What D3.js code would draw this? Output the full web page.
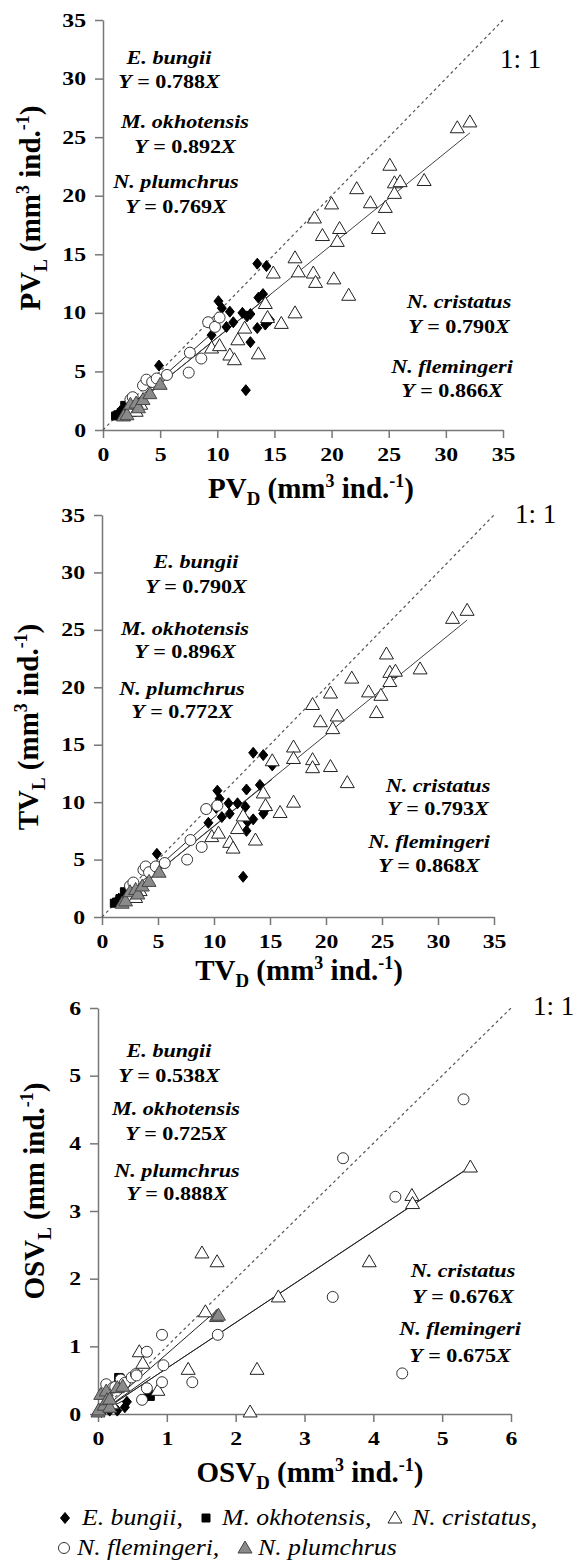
<!DOCTYPE html>
<html lang="en">
<head>
<script src="https://d3js.org/d3.v7.min.js"></script>
<style>
body { margin: 0; background: #fff; }
svg text { font-family: "Liberation Serif", "Times New Roman", serif; fill: #000; }
</style>
</head>
<body>
<svg id="chart" width="575" height="1563"></svg>
<script>
// species order: E. bungii, M. okhotensis, N. cristatus, N. flemingeri, N. plumchrus
var species = ["E. bungii", "M. okhotensis", "N. cristatus", "N. flemingeri", "N. plumchrus"]

// ---- PV panel ----
var pvBungii = [[1.5,1.6],[2.2,2.3],[4.9,5.5],[9.5,8.1],[10.1,11.0],[10.4,10.4],[10.8,8.8],[11.1,10.1],[11.4,9.2],[12.2,10.0],[12.5,3.4],[12.6,9.7],[12.9,9.9],[12.9,7.5],[13.5,8.7],[13.5,14.2],[13.6,11.3],[14.0,11.6],[14.2,9.0],[14.3,14.0],[14.6,9.4]]
var pvOkhotensis = [[1.1,1.2],[1.3,1.3],[1.6,1.5],[1.9,2.1]]
var pvCristatus = [[2.3,1.6],[2.9,1.6],[3.3,2.2],[9.5,7.0],[10.2,7.2],[11.1,6.4],[11.5,6.0],[11.8,7.7],[12.4,8.7],[13.6,6.5],[14.2,10.8],[14.4,9.6],[14.9,13.4],[15.6,9.1],[16.8,14.7],[17.1,13.5],[16.8,10.0],[18.4,13.4],[18.5,18.1],[18.6,12.6],[19.2,16.6],[20.0,19.3],[20.2,12.9],[20.5,16.1],[20.7,17.2],[21.5,11.5],[22.2,20.6],[23.4,19.4],[24.1,17.2],[24.7,19.0],[25.1,22.6],[25.5,21.1],[25.5,20.2],[26.0,21.2],[28.1,21.3],[31.0,25.8],[32.1,26.3]]
var pvFlemingeri = [[2.4,2.6],[2.6,2.8],[3.5,3.8],[3.8,4.3],[4.3,4.1],[4.7,4.4],[5.6,4.7],[7.5,4.9],[7.6,6.6],[8.6,6.1],[9.2,9.2],[9.8,8.8],[10.2,9.6]]
var pvPlumchrus = [[1.8,1.2],[2.1,1.3],[2.4,2.2],[2.9,2.3],[3.1,1.9],[3.5,2.6],[4.1,3.1],[5.0,3.9]]
var pvSlopes = [0.788, 0.892, 0.790, 0.866, 0.769]

// ---- TV panel ----
var tvBungii = [[1.5,1.6],[2.2,2.3],[4.9,5.5],[9.5,8.2],[10.2,9.5],[10.3,11.0],[10.5,10.3],[10.7,8.7],[11.3,9.9],[11.4,9.0],[12.1,9.9],[12.6,3.5],[12.8,9.6],[12.9,11.1],[12.9,7.5],[13.0,8.3],[13.5,8.5],[13.5,14.3],[14.1,11.5],[14.4,9.0],[14.4,14.1],[14.7,9.5],[15.2,13.2]]
var tvOkhotensis = [[1.1,1.2],[1.3,1.3],[1.6,1.6],[2.0,2.2]]
var tvCristatus = [[2.4,1.7],[3.0,1.7],[3.4,2.3],[9.8,7.0],[10.4,7.3],[11.4,6.5],[11.7,6.0],[12.1,7.7],[12.6,8.8],[13.7,6.7],[14.4,10.8],[14.6,9.7],[15.2,13.6],[15.9,9.1],[17.1,14.8],[17.1,13.8],[17.1,10.0],[18.8,13.7],[18.8,18.5],[18.8,13.0],[19.5,17.0],[20.4,19.5],[20.4,13.1],[20.6,16.4],[21.0,17.5],[21.9,11.7],[22.3,20.8],[23.8,19.6],[24.5,17.8],[24.9,19.3],[25.4,22.9],[25.7,21.3],[25.7,20.5],[26.2,21.4],[28.4,21.6],[31.3,26.0],[32.6,26.7]]
var tvFlemingeri = [[2.5,2.7],[2.8,3.0],[3.7,4.1],[3.9,4.4],[4.2,3.9],[4.8,4.4],[5.6,4.7],[7.6,5.0],[7.9,6.7],[8.9,6.1],[9.3,9.4],[10.3,9.7]]
var tvPlumchrus = [[1.8,1.2],[2.1,1.4],[2.5,2.2],[3.0,2.4],[3.2,2.0],[3.6,2.7],[4.2,3.1],[5.1,3.9]]
var tvSlopes = [0.790, 0.896, 0.793, 0.868, 0.772]

// ---- OSV panel ----
var osvBungii = [[0.05,0.03],[0.17,0.05],[0.28,0.05],[0.39,0.10],[0.42,0.18]]
var osvOkhotensis = [[0.06,0.07],[0.30,0.54],[0.32,0.53],[0.73,0.30],[0.76,0.26]]
var osvCristatus = [[0.10,0.10],[0.20,0.15],[0.60,0.92],[0.65,0.75],[0.87,0.35],[1.31,0.66],[1.51,2.38],[1.56,1.51],[1.73,2.25],[2.21,0.03],[2.31,0.66],[2.62,1.73],[3.94,2.25],[4.56,3.23],[4.57,3.11],[5.41,3.65]]
var osvFlemingeri = [[0.12,0.44],[0.22,0.39],[0.25,0.40],[0.33,0.51],[0.39,0.46],[0.49,0.54],[0.55,0.59],[0.56,0.57],[0.64,0.21],[0.71,0.92],[0.71,0.38],[0.93,1.17],[0.93,0.47],[0.95,0.72],[1.37,0.47],[1.74,1.17],[3.41,1.73],[3.56,3.78],[4.32,3.21],[4.42,0.60],[5.31,4.65]]
var osvPlumchrus = [[0.00,0.03],[0.01,0.06],[0.04,0.29],[0.09,0.13],[0.12,0.34],[0.13,0.21],[0.17,0.10],[0.17,0.22],[0.28,0.39],[0.36,0.41],[1.72,1.44],[1.75,1.46]]
var osvSlopes = [0.538, 0.725, 0.676, 0.675, 0.888]

var volTicks = [0, 5, 10, 15, 20, 25, 30, 35]
var osvTicks = [0, 1, 2, 3, 4, 5, 6]

var panels = [
  { v: "PV", yUnit: "mm", yExp: "3", max: 35, ticks: volTicks, slopes: pvSlopes,
    data: [pvBungii, pvOkhotensis, pvCristatus, pvFlemingeri, pvPlumchrus] },
  { v: "TV", yUnit: "mm", yExp: "3", max: 35, ticks: volTicks, slopes: tvSlopes,
    data: [tvBungii, tvOkhotensis, tvCristatus, tvFlemingeri, tvPlumchrus] },
  { v: "OSV", yUnit: "mm", yExp: "", max: 6, ticks: osvTicks, slopes: osvSlopes,
    data: [osvBungii, osvOkhotensis, osvCristatus, osvFlemingeri, osvPlumchrus] }
]

// pixel layout of each panel (plot box, titles, equation labels)
var layouts = [
  { left: 103, right: 503, bottom: 430, top: 20, xt: [311, 498], yt: [40, 208], one: [500, 68],
    labels: [[169, 64, 88], [185, 128, 153], [459, 308, 333], [452, 373, 397], [176, 188, 213]] },
  { left: 102, right: 494, bottom: 917, top: 515, xt: [299, 980], yt: [38, 727], one: [515, 523],
    labels: [[196, 568, 593], [185, 635, 658], [438, 792, 815], [429, 848, 872], [182, 695, 718]] },
  { left: 98, right: 511, bottom: 1414, top: 1008, xt: [310, 1482], yt: [44, 1191], one: [533, 1015],
    labels: [[169, 1057, 1082], [176, 1115, 1140], [463, 1277, 1303], [460, 1335, 1362], [177, 1177, 1200]] }
]

var svg = d3.select("#chart")
var fmt = d3.format(".3f")
var serif = "Liberation Serif, Times New Roman, serif"

var shapes = [
  { path: "M0,-5.5L4.5,0L0,5.5L-4.5,0Z", fill: "#000", stroke: "#000" },
  { path: "M-4,-4H4V4H-4Z", fill: "#000", stroke: "#000" },
  { path: "M0,-7L7,5H-7Z", fill: "#fff", stroke: "#222" },
  { circle: 5.5, fill: "#fff", stroke: "#333" },
  { path: "M0,-7L7,5H-7Z", fill: "#8a8a8a", stroke: "#444" }
]

function marker(g, s, x, y) {
  if (s.circle)
    return g.append("circle").attr("cx", x).attr("cy", y).attr("r", s.circle)
      .attr("fill", s.fill).attr("stroke", s.stroke).attr("stroke-width", 1)
  return g.append("path").attr("d", s.path).attr("transform", "translate(" + x + "," + y + ")")
    .attr("fill", s.fill).attr("stroke", s.stroke).attr("stroke-width", 1)
}

function stretched(g, x, y, sx, anchor) {
  return g.append("text")
    .attr("transform", "translate(" + x + "," + y + ") scale(" + sx + ",1)")
    .attr("text-anchor", anchor)
}

function title(t, main, sub, unit, exp) {
  t.append("tspan").text(main)
  t.append("tspan").attr("font-size", "0.65em").attr("dy", 7).text(sub)
  t.append("tspan").attr("dy", -7).text(" (" + unit)
  if (exp) {
    t.append("tspan").attr("font-size", "0.62em").attr("dy", -11).text(exp)
    t.append("tspan").attr("dy", 11).text(" ind.")
  } else {
    t.append("tspan").text(" ind.")
  }
  t.append("tspan").attr("font-size", "0.62em").attr("dy", -11).text("-1")
  t.append("tspan").attr("dy", 11).text(")")
}

panels.forEach(function (p, pi) {
  var L = layouts[pi]
  var xs = d3.scaleLinear().domain([0, p.max]).range([L.left, L.right])
  var ys = d3.scaleLinear().domain([0, p.max]).range([L.bottom, L.top])
  var g = svg.append("g").attr("class", "panel")

  var xa = g.append("g").attr("transform", "translate(0," + L.bottom + ")")
    .call(d3.axisBottom(xs).tickValues(p.ticks).tickFormat(d3.format("d")).tickSize(8).tickSizeOuter(0).tickPadding(10))
  var ya = g.append("g").attr("transform", "translate(" + L.left + ",0)")
    .call(d3.axisLeft(ys).tickValues(p.ticks).tickFormat(d3.format("d")).tickSize(8).tickSizeOuter(0))
  ;[xa, ya].forEach(function (a) {
    a.attr("font-family", serif).attr("font-size", 19).attr("font-weight", "bold")
    a.select(".domain").attr("stroke", "#777").attr("stroke-width", 1.5)
    a.selectAll(".tick line").attr("stroke", "#777").attr("stroke-width", 1.5)
    a.selectAll(".tick text").attr("fill", "#000")
  })
  xa.selectAll(".tick text").attr("transform", "scale(1.25,1)")
  ya.selectAll(".tick text").attr("x", -13.6).attr("transform", "scale(1.25,1)")

  // 1:1 line
  g.append("line")
    .attr("x1", xs(0)).attr("y1", ys(0)).attr("x2", xs(p.max)).attr("y2", ys(p.max))
    .attr("stroke", "#555").attr("stroke-width", 1.2).attr("stroke-dasharray", "3,3")
  g.append("text").attr("x", L.one[0]).attr("y", L.one[1])
    .attr("font-size", 27).text("1: 1")

  // regression lines over each species range
  p.data.forEach(function (pts, si) {
    var ext = d3.extent(pts, function (d) { return d[0] })
    g.append("line")
      .attr("x1", xs(ext[0])).attr("y1", ys(ext[0] * p.slopes[si]))
      .attr("x2", xs(ext[1])).attr("y2", ys(ext[1] * p.slopes[si]))
      .attr("stroke", si == 2 ? "#444" : "#222").attr("stroke-width", 1)
  })

  // points
  p.data.forEach(function (pts, si) {
    var mg = g.append("g").attr("class", "sp" + si)
    pts.forEach(function (d) { marker(mg, shapes[si], xs(d[0]), ys(d[1])) })
  })

  // equation labels
  species.forEach(function (name, si) {
    var lab = L.labels[si]
    stretched(g, lab[0], lab[1], 1.23, "middle")
      .attr("font-size", 18).attr("font-weight", "bold").attr("font-style", "italic").text(name)
    var t = stretched(g, lab[0], lab[2], 1.23, "middle").attr("font-size", 18).attr("font-weight", "bold")
    t.append("tspan").attr("font-style", "italic").text("Y")
    t.append("tspan").text(" = " + fmt(p.slopes[si]))
    t.append("tspan").attr("font-style", "italic").text("X")
  })

  // axis titles
  var xt = g.append("text").attr("x", L.xt[0]).attr("y", L.xt[1])
    .attr("text-anchor", "middle").attr("font-size", 29).attr("font-weight", "bold")
  title(xt, p.v, "D", "mm", "3")
  var yt = g.append("text")
    .attr("transform", "translate(" + L.yt[0] + "," + L.yt[1] + ") rotate(-90)")
    .attr("text-anchor", "middle").attr("font-size", 29).attr("font-weight", "bold")
  title(yt, p.v, "L", p.yUnit, p.yExp)
})

// legend
var legendRows = [
  [[0, 65, 82, "E. bungii,"], [1, 206, 222, "M. okhotensis,"], [2, 395, 412, "N. cristatus,"]],
  [[3, 64, 77, "N. flemingeri,"], [4, 245, 258, "N. plumchrus"]]
]
var legendY = [1525, 1555]
var lg = svg.append("g").attr("class", "legend")
legendRows.forEach(function (row, ri) {
  row.forEach(function (it) {
    marker(lg, shapes[it[0]], it[1], legendY[ri] - 7)
    stretched(lg, it[2], legendY[ri], 1.12, "start")
      .attr("font-size", 23).attr("font-style", "italic").text(it[3])
  })
})
</script>
</body>
</html>
